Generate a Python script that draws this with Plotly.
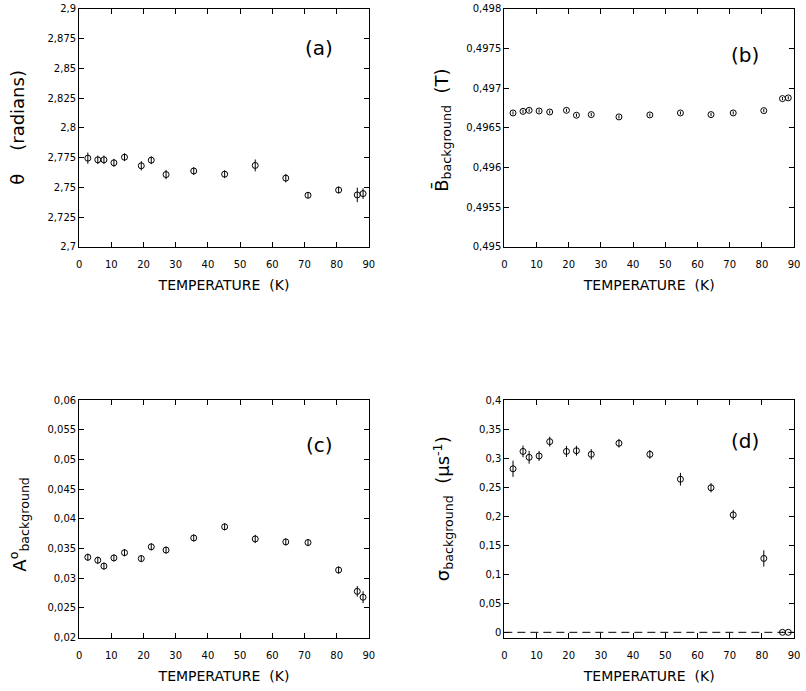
import plotly.graph_objects as go

# ---------------- data ----------------
temperature = [2.7, 5.8, 7.7, 10.8, 14.1, 19.3, 22.4, 27.0, 35.6, 45.2, 54.7, 64.2, 71.1, 80.6, 86.4, 88.2]

theta = [2.7745, 2.7731, 2.7731, 2.7706, 2.7753, 2.7681, 2.7728, 2.7607, 2.7637, 2.7610,
         2.7684, 2.7577, 2.7433, 2.7477, 2.7436, 2.7447]
theta_err = [0.0047, 0.0036, 0.0036, 0.0033, 0.0033, 0.0039, 0.0033, 0.0039, 0.0033, 0.0033,
             0.0050, 0.0036, 0.0025, 0.0028, 0.0061, 0.0044]

b_bg = [0.496688, 0.496708, 0.496721, 0.496713, 0.496700, 0.496721, 0.496659, 0.496667,
        0.496638, 0.496663, 0.496688, 0.496667, 0.496688, 0.496717, 0.496869, 0.496878]
b_bg_err = [0.00002] * 16

a_bg = [0.03352, 0.03302, 0.03203, 0.03341, 0.03429, 0.03330, 0.03528, 0.03473, 0.03677,
        0.03865, 0.03661, 0.03611, 0.03600, 0.03137, 0.02778, 0.02679]
a_bg_err = [0.0006, 0.0006, 0.0006, 0.0006, 0.0006, 0.0006, 0.0006, 0.0006, 0.0006,
            0.0006, 0.0007, 0.0006, 0.0006, 0.0006, 0.0009, 0.0010]

sigma_bg = [0.2816, 0.3115, 0.3014, 0.3037, 0.3284, 0.3115, 0.3127, 0.3065, 0.3256,
            0.3065, 0.2636, 0.2489, 0.2022, 0.1272, 0.0, 0.0]
sigma_bg_err = [0.014, 0.010, 0.011, 0.0085, 0.0085, 0.0095, 0.0085, 0.009, 0.0075,
                0.0075, 0.011, 0.008, 0.0085, 0.014, 0.001, 0.001]

x_ticks = [0, 10, 20, 30, 40, 50, 60, 70, 80, 90]

W, H = 806, 691

def px_x(p):
    return p / W

def px_y(p):
    return 1 - p / H

fig = go.Figure()

series = [
    (theta, theta_err, "x", "y"),
    (b_bg, b_bg_err, "x2", "y2"),
    (a_bg, a_bg_err, "x3", "y3"),
    (sigma_bg, sigma_bg_err, "x4", "y4"),
]
for vals, errs, xa, ya in series:
    fig.add_trace(go.Scatter(
        x=temperature, y=vals, xaxis=xa, yaxis=ya, mode="markers",
        marker=dict(symbol="circle-open", size=6, color="black", line=dict(width=1, color="black")),
        error_y=dict(type="data", array=errs, visible=True, color="black", thickness=1, width=0),
        showlegend=False, hoverinfo="x+y",
    ))

tick_font = dict(family="DejaVu Sans", size=10, color="black")
title_font = dict(family="DejaVu Sans", size=14, color="black")

def xaxis_cfg(dom, anchor):
    return dict(domain=dom, anchor=anchor, range=[0, 90], tickvals=x_ticks,
                ticks="inside", ticklen=5, tickcolor="black", showline=True,
                linecolor="black", linewidth=1, mirror="allticks", showgrid=False,
                zeroline=False, tickfont=tick_font, ticklabelstandoff=8,
                title=dict(text="TEMPERATURE\u00a0\u00a0(K)", font=title_font, standoff=11))

def yaxis_cfg(dom, anchor, rng, dtick, tick0):
    return dict(domain=dom, anchor=anchor, range=rng, dtick=dtick, tick0=tick0,
                ticks="inside", ticklen=5, tickcolor="black", showline=True,
                linecolor="black", linewidth=1, mirror="allticks", showgrid=False,
                zeroline=False, tickfont=tick_font)

xl = [px_x(77), px_x(370)]
xr = [px_x(507), px_x(800)]
yt = [px_y(245), px_y(3)]
yb = [px_y(642.7), px_y(401)]

fig.update_layout(
    width=W, height=H,
    margin=dict(l=0, r=0, t=0, b=0),
    paper_bgcolor="white", plot_bgcolor="white",
    separators=",.",
    xaxis=xaxis_cfg(xl, "y"),
    yaxis=yaxis_cfg(yt, "x", [2.7, 2.9], 0.025, 2.7),
    xaxis2=xaxis_cfg(xr, "y2"),
    yaxis2=yaxis_cfg(yt, "x2", [0.495, 0.498], 0.0005, 0.495),
    xaxis3=xaxis_cfg(xl, "y3"),
    yaxis3=yaxis_cfg(yb, "x3", [0.02, 0.06], 0.005, 0.02),
    xaxis4=xaxis_cfg(xr, "y4"),
    yaxis4=yaxis_cfg(yb, "x4", [-0.009, 0.4], 0.05, 0.0),
)

# dashed zero line in (d)
fig.add_shape(type="line", xref="x4", yref="y4", x0=0, x1=90, y0=0, y1=0,
              line=dict(color="black", width=1, dash="8px,5px"))

lab_font = dict(family="DejaVu Sans", size=20, color="black")
for txt, xp, yp in [("(a)", 320, 43), ("(b)", 750, 50), ("(c)", 320, 447), ("(d)", 750, 443)]:
    fig.add_annotation(text=txt, x=px_x(xp), y=px_y(yp), xref="paper", yref="paper",
                       showarrow=False, font=lab_font, xanchor="center", yanchor="middle")

ytitle_font = dict(family="DejaVu Sans", size=18, color="black")
ytitles = [
    ("θ\u00a0\u00a0\u00a0\u00a0(radians)", 15, 123),
    ("B\u0304<sub>background</sub>\u00a0\u00a0(T)", 444, 127),
    ("A<sup>o</sup><sub>background</sub>", 16, 527),
    ("σ<sub>background</sub>\u00a0\u00a0(μs<sup>-1</sup>)", 445, 512),
]
for txt, xp, yp in ytitles:
    fig.add_annotation(text=txt, x=px_x(xp), y=px_y(yp), xref="paper", yref="paper",
                       showarrow=False, font=ytitle_font, textangle=-90,
                       xanchor="center", yanchor="middle")

fig.write_html("out.html",
               config={"displayModeBar": False},
               post_script="document.body.style.margin='0px';document.body.style.overflow='hidden';")
